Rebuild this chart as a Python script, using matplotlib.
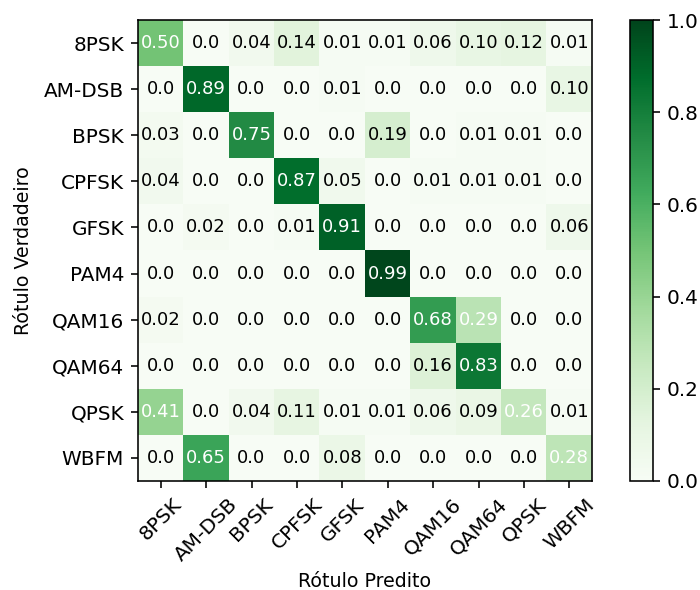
import numpy as np
import matplotlib
matplotlib.use("Agg")
import matplotlib.pyplot as plt

classes = ["8PSK", "AM-DSB", "BPSK", "CPFSK", "GFSK", "PAM4", "QAM16", "QAM64", "QPSK", "WBFM"]
row_8psk = [0.50, 0.0, 0.04, 0.14, 0.01, 0.01, 0.06, 0.10, 0.12, 0.01]
row_amdsb = [0.0, 0.89, 0.0, 0.0, 0.01, 0.0, 0.0, 0.0, 0.0, 0.10]
row_bpsk = [0.03, 0.0, 0.75, 0.0, 0.0, 0.19, 0.0, 0.01, 0.01, 0.0]
row_cpfsk = [0.04, 0.0, 0.0, 0.87, 0.05, 0.0, 0.01, 0.01, 0.01, 0.0]
row_gfsk = [0.0, 0.02, 0.0, 0.01, 0.91, 0.0, 0.0, 0.0, 0.0, 0.06]
row_pam4 = [0.0, 0.0, 0.0, 0.0, 0.0, 0.99, 0.0, 0.0, 0.0, 0.0]
row_qam16 = [0.02, 0.0, 0.0, 0.0, 0.0, 0.0, 0.68, 0.29, 0.0, 0.0]
row_qam64 = [0.0, 0.0, 0.0, 0.0, 0.0, 0.0, 0.16, 0.83, 0.0, 0.0]
row_qpsk = [0.41, 0.0, 0.04, 0.11, 0.01, 0.01, 0.06, 0.09, 0.26, 0.01]
row_wbfm = [0.0, 0.65, 0.0, 0.0, 0.08, 0.0, 0.0, 0.0, 0.0, 0.28]

cm = np.array([row_8psk, row_amdsb, row_bpsk, row_cpfsk, row_gfsk,
               row_pam4, row_qam16, row_qam64, row_qpsk, row_wbfm])

W, H = 700, 590
DPI = 144
fig = plt.figure(figsize=(W / DPI, H / DPI), dpi=DPI)
ax = fig.add_axes([138 / W, 1 - 481 / H, 454 / W, 461 / H])
cax = fig.add_axes([630 / W, 1 - 481 / H, 23 / W, 461 / H])

im = ax.imshow(cm, cmap="Greens", vmin=0, vmax=1, aspect="auto", interpolation="nearest")
cb = fig.colorbar(im, cax=cax)
cb.set_ticks([0.0, 0.2, 0.4, 0.6, 0.8, 1.0])
cb.ax.tick_params(labelsize=10)

ticks = np.arange(len(classes))
ax.set_xticks(ticks)
ax.set_yticks(ticks)
ax.set_xticklabels(classes, rotation=45, fontsize=10)
ax.set_yticklabels(classes, fontsize=10)

thresh = 0.22
for i in range(cm.shape[0]):
    for j in range(cm.shape[1]):
        v = cm[i, j]
        txt = "0.0" if v == 0 else f"{v:.2f}"
        ax.text(j, i, txt, ha="center", va="center", fontsize=9,
                color="white" if v > thresh else "black")

ax.set_xlabel("Rótulo Predito", fontsize=9.5, va="baseline")
ax.set_ylabel("Rótulo Verdadeiro", fontsize=9.5, va="center")
ax.xaxis.set_label_coords(0.5, -(587 - 481) / 461)
ax.yaxis.set_label_coords(-(138 - 24) / 454, 0.5)

fig.savefig("out.png", dpi=DPI)
